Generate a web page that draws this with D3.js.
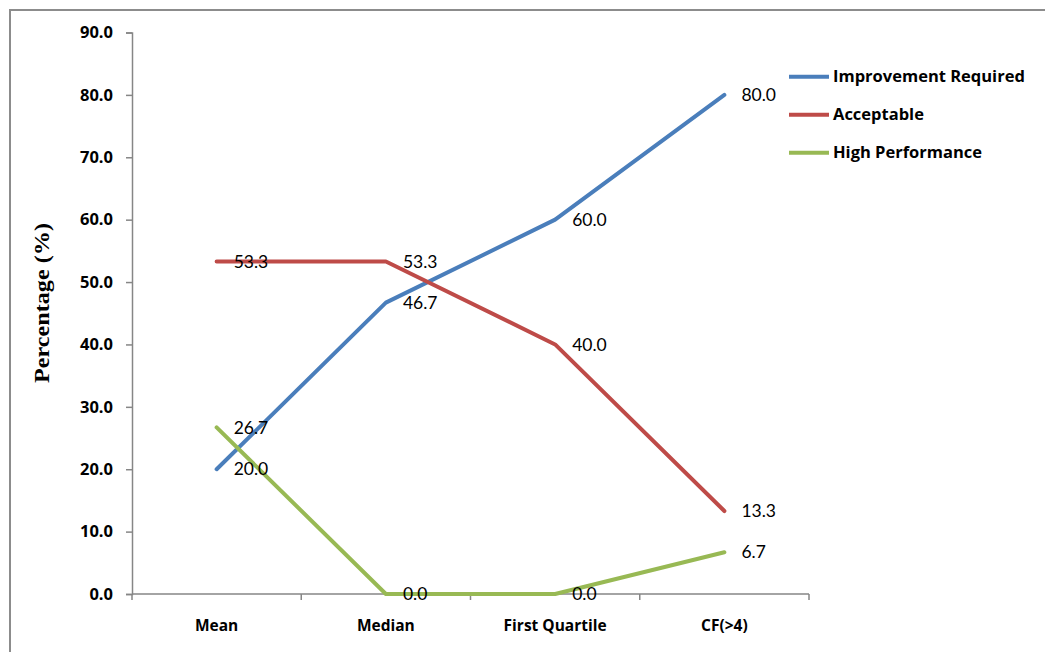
<!DOCTYPE html>
<html>
<head>
<meta charset="utf-8">
<script src="https://cdn.jsdelivr.net/npm/d3@7"></script>
<style>
  html, body { margin: 0; padding: 0; background: #fff; }
  svg { display: block; }
</style>
</head>
<body>
<svg id="chart" width="1045" height="652"></svg>
<script>
// Chart data
const categories = ["Mean", "Median", "First Quartile", "CF(>4)"];
const seriesNames = ["Improvement Required", "Acceptable", "High Performance"];
const improvementRequired = [20.0, 46.7, 60.0, 80.0];
const acceptable = [53.3, 53.3, 40.0, 13.3];
const highPerformance = [26.7, 0.0, 0.0, 6.7];
const yTicks = [0, 10, 20, 30, 40, 50, 60, 70, 80, 90];
const seriesColors = ["#4A7EBB", "#BE4B48", "#98B954"];

const seriesValues = [improvementRequired, acceptable, highPerformance];
const series = seriesNames.map((name, i) => ({
  name,
  color: seriesColors[i],
  values: seriesValues[i].map((v, j) => ({ cat: categories[j], v }))
}));

const svg = d3.select("#chart");
const boldFont = "'Open Sans', 'Liberation Sans', Arial, sans-serif";
const labelFont = "Lato, 'Liberation Sans', Arial, sans-serif";
const axisColor = "#868686";

// Outer chart frame
svg.append("rect")
  .attr("x", 10).attr("y", 10)
  .attr("width", 1100).attr("height", 700)
  .attr("fill", "none")
  .attr("stroke", "#8c8c8c")
  .attr("stroke-width", 2);

const x = d3.scalePoint().domain(categories).range([132, 809]).padding(0.5);
const y = d3.scaleLinear().domain([0, 90]).range([594, 32.5]);

// Y axis
const yAxis = svg.append("g")
  .attr("transform", "translate(132,0)")
  .call(d3.axisLeft(y).tickValues(yTicks).tickFormat(d3.format(".1f")).tickSize(6).tickPadding(13));
yAxis.select(".domain").attr("stroke", axisColor).attr("stroke-width", 1.5);
yAxis.selectAll(".tick line").attr("stroke", axisColor).attr("stroke-width", 1.5);
yAxis.selectAll(".tick text")
  .attr("fill", "#000")
  .style("font-family", boldFont)
  .style("font-size", "16.5px")
  .style("font-weight", "bold");

// X axis with ticks between categories
const step = x.step();
const xEdges = d3.range(categories.length + 1).map(i => 132 + i * step);
const xAxisG = svg.append("g").attr("transform", "translate(0,594)");
xAxisG.append("line")
  .attr("x1", 132).attr("x2", 809)
  .attr("stroke", axisColor).attr("stroke-width", 1.5);
xAxisG.selectAll("line.tick")
  .data(xEdges)
  .join("line")
  .attr("class", "tick")
  .attr("x1", d => d).attr("x2", d => d)
  .attr("y1", 0).attr("y2", 6)
  .attr("stroke", axisColor).attr("stroke-width", 1.5);
xAxisG.selectAll("text.cat")
  .data(categories)
  .join("text")
  .attr("class", "cat")
  .attr("x", d => x(d))
  .attr("y", 37)
  .attr("text-anchor", "middle")
  .style("font-family", boldFont)
  .style("font-size", "15.5px")
  .style("font-weight", "bold")
  .text(d => d);

// Y axis title
svg.append("text")
  .attr("transform", "translate(49,303) rotate(-90)")
  .attr("text-anchor", "middle")
  .attr("textLength", 160)
  .attr("lengthAdjust", "spacingAndGlyphs")
  .style("font-family", "'Liberation Serif', 'Times New Roman', serif")
  .style("font-size", "22px")
  .style("font-weight", "bold")
  .text("Percentage (%)");

// Lines
const line = d3.line().x(d => x(d.cat)).y(d => y(d.v));
svg.selectAll("path.series")
  .data(series)
  .join("path")
  .attr("class", "series")
  .attr("d", d => line(d.values))
  .attr("fill", "none")
  .attr("stroke", d => d.color)
  .attr("stroke-width", 4)
  .attr("stroke-linecap", "round")
  .attr("stroke-linejoin", "round");

// Value labels
series.forEach(s => {
  svg.selectAll(null)
    .data(s.values)
    .join("text")
    .attr("x", d => x(d.cat) + 17)
    .attr("y", d => y(d.v))
    .attr("dy", "0.35em")
    .style("font-family", labelFont)
    .style("font-size", "17.5px")
    .text(d => d3.format(".1f")(d.v));
});

// Legend
const legend = svg.append("g").attr("transform", "translate(789,76.7)");
const items = legend.selectAll("g")
  .data(series)
  .join("g")
  .attr("transform", (d, i) => `translate(0,${i * 38})`);
items.append("line")
  .attr("x1", 0).attr("x2", 40)
  .attr("stroke", d => d.color)
  .attr("stroke-width", 4);
items.append("text")
  .attr("x", 44)
  .attr("dy", "0.35em")
  .style("font-family", boldFont)
  .style("font-size", "16.5px")
  .style("font-weight", "bold")
  .text(d => d.name);
</script>
</body>
</html>
